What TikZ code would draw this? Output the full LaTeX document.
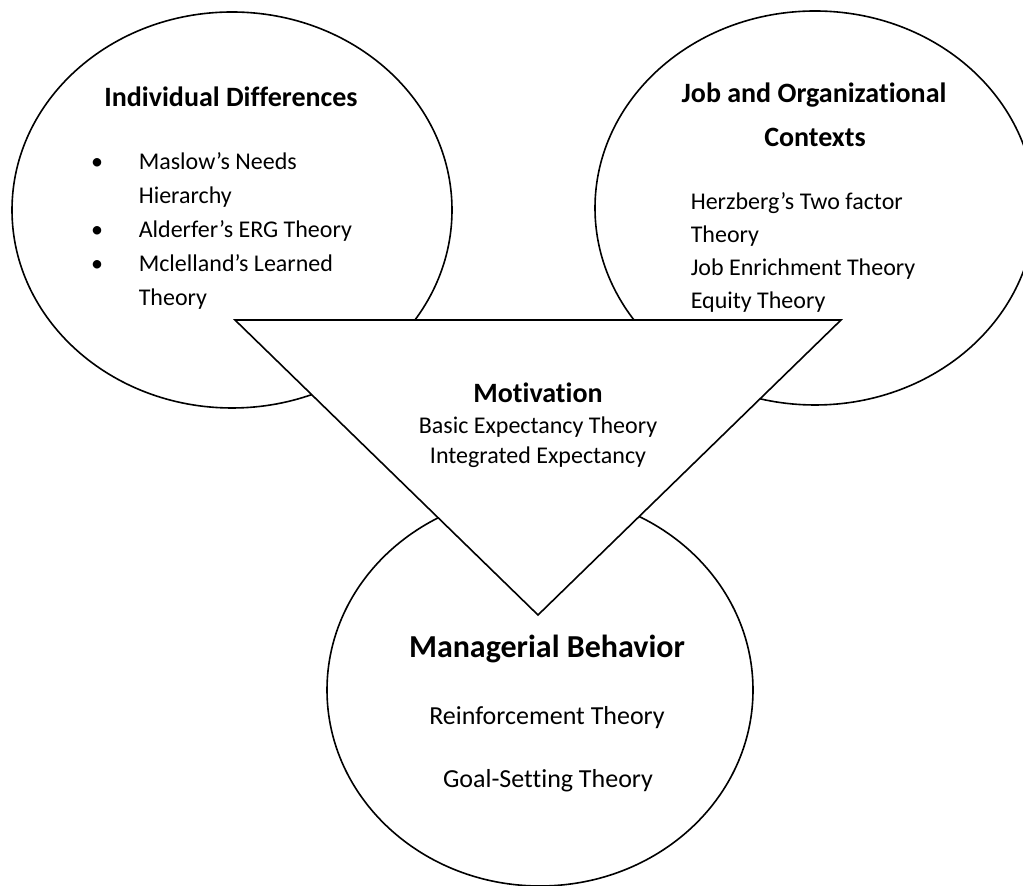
\documentclass[tikz,border=0pt]{standalone}
\usepackage{fontspec}
\setmainfont{Carlito}[Ligatures={NoCommon}]

\begin{document}
\begin{tikzpicture}[x=0.5pt, y=-0.5pt, line width=0.8pt,
    head/.style={font=\fontsize{14}{17}\selectfont\bfseries, inner sep=0pt, anchor=base},
    item/.style={font=\fontsize{12}{14}\selectfont, inner sep=0pt, anchor=base west},
    sub/.style={font=\fontsize{12}{14}\selectfont, inner sep=0pt, anchor=base}]
          \useasboundingbox (0,0) rectangle (1023,886);
          \clip (0,0) rectangle (1023,886);
          % Left circle
          \draw[fill=white] (232,210) ellipse (220 and 198);
          \node[head] (indiv) at (231,107) {Individual Differences};
          \node[item, anchor=base] (b1) at (97,170) {\textbullet};
          \node[item] (maslow) at (138,170) {Maslow’s Needs};
          \node[item] (hier) at (138,204) {Hierarchy};
          \node[item, anchor=base] (b2) at (97,238) {\textbullet};
          \node[item] (alderfer) at (138,238) {Alderfer’s ERG Theory};
          \node[item, anchor=base] (b3) at (97,272) {\textbullet};
          \node[item] (mclelland) at (138,272) {Mclelland’s Learned};
          \node[item] (learned) at (138,306) {Theory};
          % Right circle
          \draw[fill=white] (815,208) ellipse (220 and 197);
          \node[head] (job) at (814,103) {Job and Organizational};
          \node[head] (context) at (815,147) {Contexts};
          \node[item] (herzberg) at (690,210) {Herzberg’s Two factor};
          \node[item] (twofac) at (690,243) {Theory};
          \node[item] (enrich) at (690,276) {Job Enrichment Theory};
          \node[item] (equity) at (690,309) {Equity Theory};
          % Bottom circle
          \draw[fill=white] (540,690) ellipse (213 and 196);
          \node[head, font=\fontsize{16}{19}\selectfont\bfseries] (manag) at (547,658) {Managerial Behavior};
          \node[sub, font=\fontsize{13}{16}\selectfont] (reinf) at (547,725) {Reinforcement Theory};
          \node[sub, font=\fontsize{13}{16}\selectfont] (goal) at (548,788) {Goal-Setting Theory};
          % Triangle
          \draw[fill=white] (235,320) -- (841,320) -- (538,615) -- cycle;
          \node[head] (motiv) at (538,403) {Motivation};
          \node[sub] (basic) at (538,434) {Basic Expectancy Theory};
          \node[sub] (integ) at (538,464) {Integrated Expectancy};
\end{tikzpicture}
\end{document}
